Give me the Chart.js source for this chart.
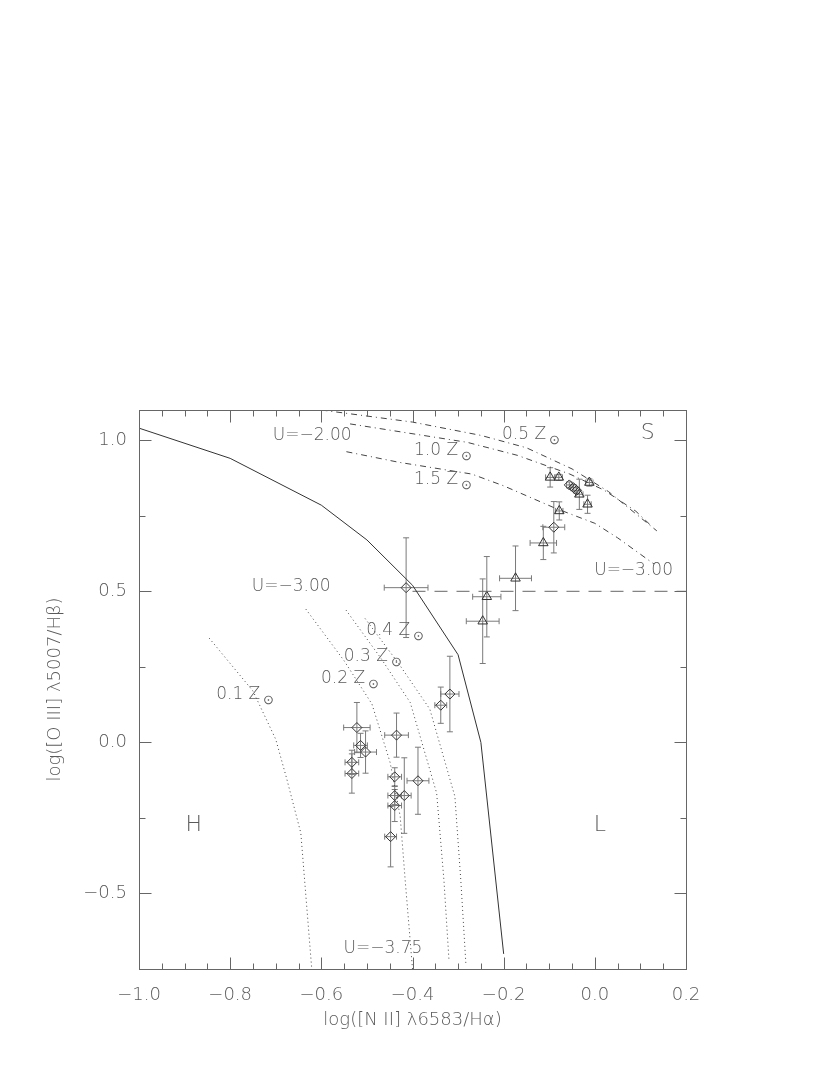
<!DOCTYPE html>
<html><head><meta charset="utf-8">
<script src="https://cdn.jsdelivr.net/npm/chart.js@4.4.1/dist/chart.umd.min.js"></script>
<style>html,body{margin:0;padding:0;background:#fff}#wrap{width:830px;height:1075px}</style>
</head><body><div id="wrap"><canvas id="c" width="830" height="1075"></canvas></div>
<script>
// ---- tick labels ----
const xTicks = [-1.0, -0.8, -0.6, -0.4, -0.2, 0.0, 0.2];
const xMinorTicks = [-0.95, -0.9, -0.85, -0.75, -0.7, -0.65, -0.55, -0.5, -0.45, -0.35, -0.3, -0.25, -0.15, -0.1, -0.05, 0.05, 0.1, 0.15];
const yTicks = [-0.5, 0.0, 0.5, 1.0];
const yMinorTicks = [-0.25, 0.25, 0.75];

// ---- demarcation curve (solid) ----
const demarcX = [-1.0, -0.8, -0.6, -0.5, -0.4, -0.3, -0.25, -0.2];
const demarcY = [1.04, 0.94, 0.785, 0.67, 0.52, 0.29, 0.0, -0.70];

// ---- horizontal divider (dashed) ----
const dividerX = [-0.40, 0.2];
const dividerY = [0.5, 0.5];

// ---- high-metallicity models (dash-dot), U=-2.00 -> U=-3.00 ----
const z05X = [-0.60, -0.40, -0.25, -0.15, -0.05, 0.03, 0.136];
const z05Y = [1.10, 1.06, 1.016, 0.975, 0.905, 0.83, 0.70];
const z10X = [-0.537, -0.28, -0.17, -0.055, 0.02, 0.09, 0.125];
const z10Y = [1.054, 0.993, 0.95, 0.888, 0.835, 0.765, 0.715];
const z15X = [-0.545, -0.43, -0.27, -0.20, -0.09, 0.0, 0.05, 0.13];
const z15Y = [0.962, 0.927, 0.888, 0.849, 0.777, 0.725, 0.677, 0.59];

// ---- low-metallicity models (dotted), U=-3.00 -> U=-3.75 ----
const z01X = [-0.846, -0.75, -0.70, -0.676, -0.645, -0.621];
const z01Y = [0.345, 0.17, 0.01, -0.12, -0.30, -0.75];
const z02X = [-0.634, -0.55, -0.489, -0.449, -0.427, -0.416, -0.40];
const z02Y = [0.441, 0.27, 0.127, -0.067, -0.245, -0.457, -0.75];
const z03X = [-0.546, -0.47, -0.405, -0.347, -0.331, -0.32];
const z03Y = [0.438, 0.28, 0.132, -0.168, -0.457, -0.72];
const z04X = [-0.504, -0.43, -0.362, -0.307, -0.294, -0.283];
const z04Y = [0.41, 0.26, 0.11, -0.179, -0.457, -0.73];

// ---- diamonds ----
const diaX    = [-0.414, -0.090, -0.056, -0.047, -0.040, -0.522, -0.514, -0.503, -0.533, -0.533, -0.435, -0.439, -0.439, -0.418, -0.439, -0.388, -0.448, -0.338, -0.318];
const diaY    = [0.512, 0.712, 0.852, 0.843, 0.834, 0.049, -0.010, -0.032, -0.066, -0.103, 0.024, -0.114, -0.176, -0.176, -0.209, -0.127, -0.312, 0.123, 0.160];
const diaXErr = [0.048, 0.024, 0.006, 0.006, 0.006, 0.029, 0.015, 0.024, 0.015, 0.015, 0.026, 0.015, 0.015, 0.015, 0.015, 0.024, 0.013, 0.013, 0.020];
const diaYErr = [0.165, 0.085, 0.010, 0.010, 0.010, 0.083, 0.040, 0.070, 0.040, 0.065, 0.073, 0.030, 0.030, 0.125, 0.053, 0.111, 0.100, 0.060, 0.125];

// ---- triangles ----
const triX    = [-0.098, -0.079, -0.034, -0.012, -0.016, -0.078, -0.113, -0.174, -0.237, -0.246];
const triY    = [0.877, 0.877, 0.821, 0.860, 0.788, 0.766, 0.660, 0.543, 0.482, 0.401];
const triXErr = [0.010, 0.008, 0.008, 0.008, 0.008, 0.008, 0.029, 0.035, 0.031, 0.036];
const triYErr = [0.032, 0.010, 0.050, 0.012, 0.030, 0.030, 0.055, 0.107, 0.133, 0.140];

// ---- in-plot labels (data coords) ----
const noteText = ['U=\u22122.00', '0.5 Z\u2299', '1.0 Z\u2299', '1.5 Z\u2299', 'S', 'U=\u22123.00', 'U=\u22123.00', '0.4 Z\u2299', '0.3 Z\u2299', '0.2 Z\u2299', '0.1 Z\u2299', 'H', 'L', 'U=\u22123.75'];
const noteX = [-0.620, -0.140, -0.333, -0.333, 0.116, 0.085, -0.666, -0.438, -0.487, -0.537, -0.767, -0.880, 0.011, -0.465];
const noteY = [1.017, 1.020, 0.967, 0.870, 1.022, 0.568, 0.515, 0.370, 0.283, 0.210, 0.157, -0.274, -0.274, -0.684];

const pts = (xs, ys) => xs.map((x, i) => ({x: x, y: ys[i]}));
const TXT = '#5a5a5a';
const FONT = "'DejaVu Sans', sans-serif";
const WEIGHT = '200';

function lineSet(xs, ys, dash, color) {
  return {type: 'line', data: pts(xs, ys), showLine: true, pointRadius: 0, borderWidth: 1,
    borderColor: color, borderDash: dash, tension: 0, fill: false};
}

const fmt = v => { const s = Number(v).toFixed(1); return s.replace('-', '\u2212'); };

const decor = {
  id: 'decor',
  beforeDatasetsDraw(chart) {
    const ctx = chart.ctx, xs = chart.scales.x, ys = chart.scales.y;
    ctx.save();
    ctx.strokeStyle = '#7a7a7a';
    ctx.lineWidth = 1;
    const bars = (X, Y, XE, YE) => {
      for (let i = 0; i < X.length; i++) {
        const px = xs.getPixelForValue(X[i]), py = ys.getPixelForValue(Y[i]);
        const x0 = xs.getPixelForValue(X[i] - XE[i]), x1 = xs.getPixelForValue(X[i] + XE[i]);
        const y0 = ys.getPixelForValue(Y[i] - YE[i]), y1 = ys.getPixelForValue(Y[i] + YE[i]);
        ctx.beginPath();
        ctx.moveTo(x0, py); ctx.lineTo(x1, py);
        ctx.moveTo(x0, py - 3); ctx.lineTo(x0, py + 3);
        ctx.moveTo(x1, py - 3); ctx.lineTo(x1, py + 3);
        ctx.moveTo(px, y0); ctx.lineTo(px, y1);
        ctx.moveTo(px - 3, y0); ctx.lineTo(px + 3, y0);
        ctx.moveTo(px - 3, y1); ctx.lineTo(px + 3, y1);
        ctx.stroke();
      }
    };
    bars(diaX, diaY, diaXErr, diaYErr);
    bars(triX, triY, triXErr, triYErr);
    ctx.restore();
  },
  afterDatasetsDraw(chart) {
    const ctx = chart.ctx, xs = chart.scales.x, ys = chart.scales.y, a = chart.chartArea;
    ctx.save();
    ctx.strokeStyle = '#666';
    ctx.lineWidth = 1;
    const L = Math.round(a.left) + 0.5, R = Math.round(a.right) + 0.5, T = Math.round(a.top) + 0.5, B = Math.round(a.bottom) + 0.5;
    ctx.strokeRect(L, T, R - L, B - T);
    ctx.beginPath();
    const tx = (v, len) => { const p = Math.round(xs.getPixelForValue(v)) + 0.5; ctx.moveTo(p, B); ctx.lineTo(p, B - len); ctx.moveTo(p, T); ctx.lineTo(p, T + len); };
    const ty = (v, len) => { const p = Math.round(ys.getPixelForValue(v)) + 0.5; ctx.moveTo(L, p); ctx.lineTo(L + len, p); ctx.moveTo(R, p); ctx.lineTo(R - len, p); };
    xTicks.forEach(v => tx(v, 12));
    xMinorTicks.forEach(v => tx(v, 6));
    yTicks.forEach(v => ty(v, 12));
    yMinorTicks.forEach(v => ty(v, 6));
    ctx.stroke();

    // labels
    ctx.fillStyle = TXT;
    ctx.textBaseline = 'middle';
    ctx.textAlign = 'left';
    for (let i = 0; i < noteText.length; i++) {
      const cx = xs.getPixelForValue(noteX[i]), cy = ys.getPixelForValue(noteY[i]);
      let main = noteText[i], sub = '';
      if (main.endsWith('\u2299')) { sub = '\u2299'; main = main.slice(0, -1); }
      const size = main.length === 1 ? 22 : 17;
      ctx.font = WEIGHT + ' ' + size + 'px ' + FONT;
      const wm = ctx.measureText(main).width;
      ctx.font = WEIGHT + ' 13px ' + FONT;
      const ws = sub ? ctx.measureText(sub).width + 3 : 0;
      const x0 = cx - (wm + ws) / 2;
      ctx.font = WEIGHT + ' ' + size + 'px ' + FONT;
      ctx.fillText(main, x0, cy);
      if (sub) { ctx.font = WEIGHT + ' 13px ' + FONT; ctx.fillText(sub, x0 + wm + 3, cy + 6); }
    }
    ctx.restore();
  }
};

new Chart(document.getElementById('c'), {
  type: 'scatter',
  data: {
    datasets: [
      lineSet(demarcX, demarcY, [], '#333'),
      lineSet(dividerX, dividerY, [13, 9], '#666'),
      lineSet(z05X, z05Y, [6, 4, 1, 4], '#444'),
      lineSet(z10X, z10Y, [6, 4, 1, 4], '#444'),
      lineSet(z15X, z15Y, [6, 4, 1, 4], '#444'),
      lineSet(z01X, z01Y, [1, 3], '#444'),
      lineSet(z02X, z02Y, [1, 3], '#444'),
      lineSet(z03X, z03Y, [1, 3], '#444'),
      lineSet(z04X, z04Y, [1, 3], '#444'),
      {data: pts(diaX, diaY), pointStyle: 'rectRot', pointRadius: 5, pointBackgroundColor: 'rgba(0,0,0,0)', pointBorderColor: '#333', pointBorderWidth: 1},
      {data: pts(triX, triY), pointStyle: 'triangle', pointRadius: 5.5, pointBackgroundColor: 'rgba(0,0,0,0)', pointBorderColor: '#333', pointBorderWidth: 1}
    ]
  },
  options: {
    responsive: false,
    animation: false,
    events: [],
    layout: {padding: {top: 410, right: 144, left: 0, bottom: 0}},
    plugins: {legend: {display: false}, tooltip: {enabled: false}},
    scales: {
      x: {
        type: 'linear', min: -1.0, max: 0.2,
        grid: {display: false, drawTicks: false}, border: {display: false},
        afterBuildTicks: s => { s.ticks = xTicks.map(v => ({value: v})); },
        afterFit: s => { s.height = 106; },
        ticks: {callback: v => fmt(v), color: TXT, font: {family: FONT, size: 18, weight: WEIGHT}, padding: 16, maxRotation: 0, autoSkip: false},
        title: {display: true, text: 'log([N II] \u03BB6583/H\u03B1)', color: TXT, font: {family: FONT, size: 18, weight: WEIGHT}, padding: {top: 0, bottom: 44}}
      },
      y: {
        type: 'linear', min: -0.75, max: 1.1,
        grid: {display: false, drawTicks: false}, border: {display: false},
        afterBuildTicks: s => { s.ticks = yTicks.map(v => ({value: v})); },
        afterFit: s => { s.width = 139; },
        ticks: {callback: v => fmt(v), color: TXT, font: {family: FONT, size: 18, weight: WEIGHT}, padding: 12, autoSkip: false},
        title: {display: true, text: 'log([O III] \u03BB5007/H\u03B2)', color: TXT, font: {family: FONT, size: 18, weight: WEIGHT}, padding: {top: 45, bottom: 0}}
      }
    }
  },
  plugins: [decor]
});
</script></body></html>
